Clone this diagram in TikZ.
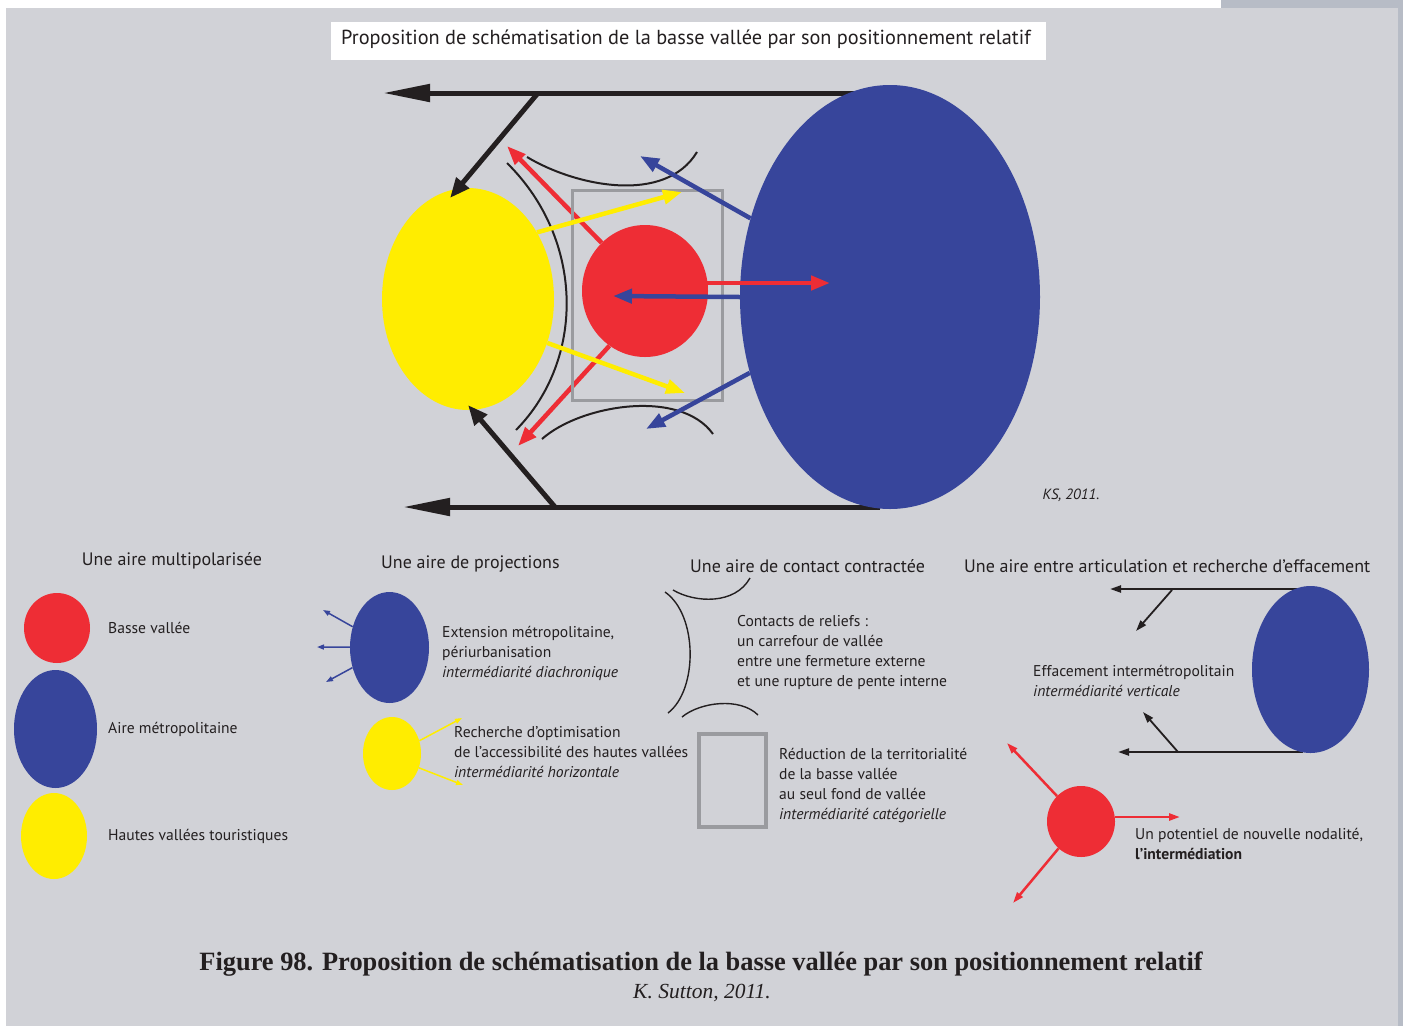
\documentclass[tikz,border=0pt]{standalone}
\usepackage{fontspec}
\setmainfont{PT Sans}
\newfontfamily\capfont{Liberation Serif}
\usepackage{tikz}
\usetikzlibrary{arrows.meta,shapes.geometric}

\definecolor{fond}{HTML}{D1D2D7}
\definecolor{bord}{HTML}{B7BCC6}
\definecolor{rouge}{HTML}{EE2D35}
\definecolor{bleu}{HTML}{37459B}
\definecolor{jaune}{HTML}{FFED00}
\definecolor{encre}{HTML}{231F20}
\definecolor{cadre}{HTML}{9A9B9F}

\begin{document}
\begin{tikzpicture}[x=1pt,y=-1pt,
  pole/.style={ellipse,inner sep=0pt,draw=none},
  axe/.style={line width=5pt,encre,-{Triangle[length=47pt,width=17pt]}},
  renvoi/.style={line width=5pt,encre,-{Triangle[length=20pt,width=16pt]}},
  fleche/.style={line width=4.5pt,#1,-{Triangle[length=19pt,width=14pt]}},
  relief/.style={line width=2pt,encre},
  petite/.style={line width=1.5pt,#1,-{Triangle[length=7pt,width=5pt]}},
  moyenne/.style={line width=2.2pt,#1,-{Triangle[length=11pt,width=7pt]}},
  titre/.style={text=encre,font=\fontsize{18}{20}\selectfont,inner sep=0pt},
  lab/.style={text=encre,font=\fontsize{15.6}{20}\selectfont,align=left,anchor=west,inner sep=0pt}]
 \useasboundingbox (0,0) rectangle (1403,1026);
 % fond de page
 \fill[white] (0,0) rectangle (1403,1026);
 \fill[bord] (1221,0) rectangle (1403,1026);
 \fill[fond] (6,8) rectangle (1398,1026);
 \fill[white] (331,22) rectangle (1046,60);
 \node[text=encre,font=\fontsize{20.3}{22}\selectfont,inner sep=0pt] (titre) at (686,39)
  {Proposition de schématisation de la basse vallée par son positionnement relatif};

 % schema principal
 \coordinate (hautD) at (880,93);
 \coordinate (hautG) at (383,93);
 \coordinate (basD) at (880,507);
 \coordinate (basG) at (403,507);
 \coordinate (jonctH) at (538,93);
 \coordinate (jonctB) at (555,507);
 \draw[axe] (hautD) -- (hautG);
 \draw[axe] (basD) -- (basG);
 \node[pole,fill=bleu,minimum width=300pt,minimum height=424pt] (metro) at (890,297) {};
 \node[pole,fill=jaune,minimum width=172pt,minimum height=222pt] (hautes) at (468,299) {};
 \node[pole,fill=rouge,minimum width=126pt,minimum height=132pt] (basse) at (645,291) {};
 \coordinate (tipH) at (450,198);
 \coordinate (tipB) at (468,405);
 \draw[renvoi] (jonctH) -- (tipH);
 \draw[renvoi] (jonctB) -- (tipB);
 % reliefs
 \draw[relief] (527,157) .. controls (575,186) and (665,205) .. (697,152);
 \draw[relief] (542,439) .. controls (580,405) and (680,388) .. (713,434);
 \draw[relief] (507,163) .. controls (585,240) and (585,360) .. (516,430);
 % projections de la basse vallee
 \coordinate (rougeNO) at (507,146);
 \coordinate (rougeSO) at (518,446);
 \coordinate (rougeE) at (830,283);
 \draw[fleche=rouge] (basse.132) -- (rougeNO);
 \draw[fleche=rouge] (basse.237) -- (rougeSO);
 \draw[cadre,line width=3pt] (572,190) rectangle (722,400);
 \coordinate (jauneH) at (682,192);
 \coordinate (jauneB) at (685,393);
 \draw[fleche=jaune] (hautes.44) -- (jauneH);
 \draw[fleche=jaune] (hautes.-29) -- (jauneB);
 \coordinate (bleuH) at (640,156);
 \coordinate (bleuB) at (646,429);
 \coordinate (bleuO) at (613,296);
 \draw[fleche=bleu] (metro) -- (bleuH);
 \draw[fleche=bleu] (metro) -- (bleuB);
 \draw[fleche=bleu] (metro.west) -- (bleuO);
 \draw[fleche=rouge] (707,283) -- (rougeE);
 \node[text=encre,font=\fontsize{14.8}{16}\selectfont\itshape,inner sep=0pt] (ks) at (1071,495) {KS, 2011.};

 % legende 1
 \node[titre] (leg1) at (172,561) {Une aire multipolarisée};
 \node[pole,fill=rouge,minimum width=66pt,minimum height=70pt] (pBasse) at (57,628) {};
 \node[pole,fill=bleu,minimum width=83pt,minimum height=118pt] (pMetro) at (55.5,729) {};
 \node[pole,fill=jaune,minimum width=66pt,minimum height=86pt] (pHautes) at (54,836) {};
 \node[lab] (tBasse) at (108,628) {Basse vallée};
 \node[lab] (tMetro) at (108,729) {Aire métropolitaine};
 \node[lab] (tHautes) at (108,836) {Hautes vallées touristiques};

 % legende 2
 \node[titre,anchor=west] (leg2) at (381,564) {Une aire de projections};
 \node[pole,fill=bleu,minimum width=79pt,minimum height=111pt] (projMetro) at (389.5,647.5) {};
 \coordinate (pm1) at (323,610);
 \coordinate (pm2) at (317,647);
 \coordinate (pm3) at (326,682);
 \draw[petite=bleu] (projMetro) -- (pm1);
 \draw[petite=bleu] (projMetro) -- (pm2);
 \draw[petite=bleu] (projMetro) -- (pm3);
 \node[lab] (tExt) at (442,653) {Extension métropolitaine,\\périurbanisation\\\textit{intermédiarité diachronique}};
 \node[pole,fill=jaune,minimum width=58pt,minimum height=73pt] (projHautes) at (392,753.5) {};
 \coordinate (ph1) at (462,718);
 \coordinate (ph2) at (463,785);
 \draw[petite=jaune] (projHautes.25) -- (ph1);
 \draw[petite=jaune] (projHautes.-28) -- (ph2);
 \node[lab] (tRech) at (454,752) {Recherche d’optimisation\\de l’accessibilité des hautes vallées\\\textit{intermédiarité horizontale}};

 % legende 3
 \node[titre,anchor=west] (leg3) at (690,566) {Une aire de contact contractée};
 \draw[relief,line width=1.4pt] (673,590) .. controls (695,603) and (735,605) .. (750,578);
 \draw[relief,line width=1.4pt] (665,592) .. controls (698,615) and (698,690) .. (668,713);
 \draw[relief,line width=1.4pt] (682,717) .. controls (700,702) and (740,697) .. (758,715);
 \node[lab] (tCont) at (737,652) {Contacts de reliefs :\\un carrefour de vallée\\entre une fermeture externe\\et une rupture de pente interne};
 \draw[cadre,line width=4pt] (699,734) rectangle (766,827);
 \node[lab] (tRed) at (779,786) {Réduction de la territorialité\\de la basse vallée\\au seul fond de vallée\\\textit{intermédiarité catégorielle}};

 % legende 4
 \node[titre,anchor=west] (leg4) at (964,566) {Une aire entre articulation et recherche d’effacement};
 \coordinate (effHD) at (1303,589);
 \coordinate (effHG) at (1110,589);
 \coordinate (effBD) at (1303,752);
 \coordinate (effBG) at (1118,752);
 \draw[moyenne=encre] (effHD) -- (effHG);
 \draw[moyenne=encre] (effBD) -- (effBG);
 \coordinate (effJH) at (1172,590);
 \coordinate (effJB) at (1178,752);
 \coordinate (effTH) at (1136,631);
 \coordinate (effTB) at (1143,712);
 \draw[moyenne=encre,line width=1.8pt] (effJH) -- (effTH);
 \draw[moyenne=encre,line width=1.8pt] (effJB) -- (effTB);
 \node[pole,fill=bleu,minimum width=117pt,minimum height=167pt] (effMetro) at (1310.5,669.5) {};
 \node[lab] (tEff) at (1033,680.5) {Effacement intermétropolitain\\\textit{intermédiarité verticale}};
 \node[pole,fill=rouge,minimum width=68pt,minimum height=71pt] (noeud) at (1081,821.5) {};
 \coordinate (nNO) at (1007,743);
 \coordinate (nE) at (1180,817);
 \coordinate (nSO) at (1013,903);
 \draw[moyenne=rouge,line width=2.5pt] (noeud) -- (nNO);
 \draw[moyenne=rouge,line width=2.5pt] (noeud.east |- nE) -- (nE);
 \draw[moyenne=rouge,line width=2.5pt] (noeud) -- (nSO);
 \node[lab] (tNoeud) at (1135,843.5) {Un potentiel de nouvelle nodalité,\\\textbf{l’intermédiation}};

 % legende de la figure
 \node[text=encre,font=\capfont\bfseries\fontsize{26.4}{28}\selectfont,inner sep=0pt] (fig) at (701,964)
  {Figure 98. Proposition de schématisation de la basse vallée par son positionnement relatif};
 \node[text=encre,font=\capfont\itshape\fontsize{21.5}{23}\selectfont,inner sep=0pt] (auteur) at (702,993)
  {K. Sutton, 2011.};
\end{tikzpicture}
\end{document}
